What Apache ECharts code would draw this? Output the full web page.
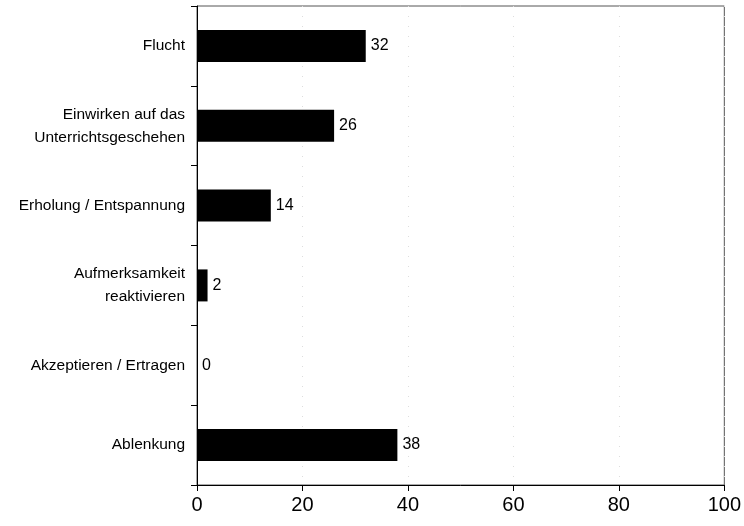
<!DOCTYPE html>
<html><head><meta charset="utf-8">
<script src="https://cdn.jsdelivr.net/npm/echarts@6/dist/echarts.min.js"></script>
<style>html,body{margin:0;padding:0;background:#fff}#c{width:744px;height:526px}</style>
</head><body><div id="c"></div>
<script>
const categories = ["Flucht", "Einwirken auf das\nUnterrichtsgeschehen", "Erholung / Entspannung", "Aufmerksamkeit\nreaktivieren", "Akzeptieren / Ertragen", "Ablenkung"];
const values = [32, 26, 14, 2, 0, 38];
const xTicks = [0, 20, 40, 60, 80, 100];

const chart = echarts.init(document.getElementById('c'));
chart.setOption({
  animation: false,
  grid: {left: 197, right: 19, top: 6, bottom: 41, show: true, borderColor: '#555', borderWidth: 1, backgroundColor: 'transparent'},
  xAxis: {
    type: 'value', min: xTicks[0], max: xTicks[xTicks.length - 1], interval: 20,
    axisLine: {show: true, lineStyle: {color: '#000', width: 1}},
    axisTick: {show: true, length: 6, lineStyle: {color: '#000'}},
    axisLabel: {color: '#000', fontSize: 20, fontFamily: 'Liberation Sans, Arial, sans-serif', margin: 10},
    splitLine: {show: true, lineStyle: {color: '#ddd', type: [1, 9], width: 1}}
  },
  yAxis: {
    type: 'category', data: categories, inverse: true,
    axisLine: {show: true, lineStyle: {color: '#000', width: 1}},
    axisTick: {show: true, length: 6, lineStyle: {color: '#000'}},
    axisLabel: {color: '#000', fontSize: 15.5, fontFamily: 'Liberation Sans, Arial, sans-serif', margin: 12, lineHeight: 23, align: 'right'}
  },
  series: [{
    type: 'bar', data: values, barWidth: 32,
    itemStyle: {color: '#000'},
    label: {show: true, position: 'right', distance: 5, color: '#000', fontSize: 16, fontFamily: 'Liberation Sans, Arial, sans-serif'}
  }]
});
</script></body></html>
